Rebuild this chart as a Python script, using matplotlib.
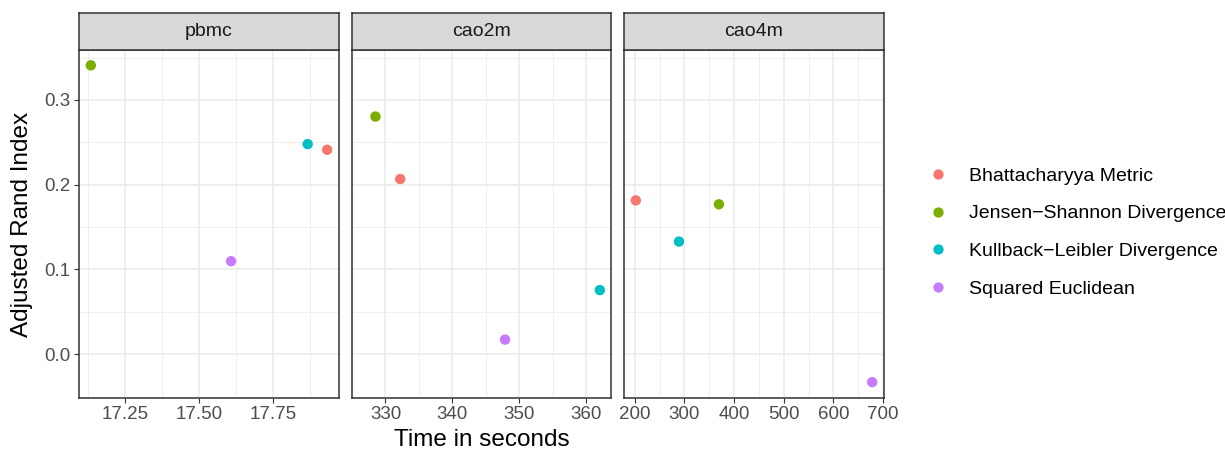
import matplotlib
matplotlib.use("Agg")
import matplotlib.pyplot as plt
from matplotlib.lines import Line2D
import numpy as np

plt.rcParams['font.family'] = ['Liberation Sans', 'DejaVu Sans']

datasets = ["pbmc", "cao2m", "cao4m"]
metrics = ["Bhattacharyya Metric", "Jensen\u2212Shannon Divergence",
           "Kullback\u2212Leibler Divergence", "Squared Euclidean"]
colors = ["#F8766D", "#7CAE00", "#00BFC4", "#C77CFF"]

# time (s) per dataset, ordered as metrics
time_pbmc = [17.933, 17.134, 17.867, 17.608]
time_cao2m = [332.2, 328.5, 362.0, 347.85]
time_cao4m = [202.0, 369.5, 289.0, 678.3]
# ARI per dataset, ordered as metrics
ari_pbmc = [0.2412, 0.3408, 0.2479, 0.1098]
ari_cao2m = [0.2067, 0.2804, 0.0757, 0.0173]
ari_cao4m = [0.1815, 0.1769, 0.1329, -0.0329]

times = [time_pbmc, time_cao2m, time_cao4m]
aris = [ari_pbmc, ari_cao2m, ari_cao4m]

x_major = [[17.25, 17.50, 17.75], [330, 340, 350, 360], [200, 300, 400, 500, 600, 700]]
x_minor = [[17.125, 17.375, 17.625, 17.875], [325, 335, 345, 355],
           [250, 350, 450, 550, 650]]
x_labels = [["17.25", "17.50", "17.75"], ["330", "340", "350", "360"],
            ["200", "300", "400", "500", "600", "700"]]
y_major = [0.0, 0.1, 0.2, 0.3]
y_minor = [-0.05, 0.05, 0.15, 0.25, 0.35]
y_labels = ["0.0", "0.1", "0.2", "0.3"]

W, H = 1225, 451
fig = plt.figure(figsize=(W / 100, H / 100), dpi=100)

lefts = [79, 352, 624]
widths = [260, 259, 260]
p_top, p_bot = 49.5, 398
strip_top = 13

all_ari = np.concatenate([np.array(a) for a in aris])
ymin, ymax = all_ari.min(), all_ari.max()
yr = ymax - ymin
ylim = (ymin - 0.05 * yr, ymax + 0.05 * yr)

border = "#333333"
for i, name in enumerate(datasets):
    ax = fig.add_axes([lefts[i] / W, 1 - p_bot / H, widths[i] / W, (p_bot - p_top) / H])
    t = np.array(times[i]); a = np.array(aris[i])
    xr = t.max() - t.min()
    ax.set_xlim(t.min() - 0.05 * xr, t.max() + 0.05 * xr)
    ax.set_ylim(*ylim)
    ax.set_xticks(x_major[i])
    ax.set_xticklabels(x_labels[i])
    ax.set_xticks(x_minor[i], minor=True)
    ax.set_yticks(y_major)
    ax.set_yticks(y_minor, minor=True)
    ax.grid(True, which='major', color="#EBEBEB", linewidth=1.1)
    ax.grid(True, which='minor', color="#EBEBEB", linewidth=0.55)
    ax.set_axisbelow(True)
    ax.tick_params(axis='both', which='minor', length=0)
    ax.tick_params(axis='both', which='major', length=3.5, width=0.8, color=border,
                   labelsize=13.5, labelcolor="#4D4D4D", pad=2.5)
    if i == 0:
        ax.set_yticklabels(y_labels)
    else:
        ax.tick_params(axis='y', which='major', length=0, labelleft=False)
    for s in ax.spines.values():
        s.set_color(border)
        s.set_linewidth(1.1)
    for j in range(len(metrics)):
        ax.scatter(t[j], a[j], s=56, color=colors[j], edgecolors='none', zorder=3)
    # strip
    sax = fig.add_axes([lefts[i] / W, 1 - p_top / H, widths[i] / W, (p_top - strip_top) / H])
    sax.set_facecolor("#D9D9D9")
    sax.set_xticks([]); sax.set_yticks([])
    for s in sax.spines.values():
        s.set_color(border)
        s.set_linewidth(1.1)
    sax.text(0.5, 0.5, name, ha='center', va='center', fontsize=14, color="#1A1A1A",
             transform=sax.transAxes)

fig.text(22 / W, 1 - 224 / H, "Adjusted Rand Index", rotation=90, ha='center', va='center',
         fontsize=17.5)
fig.text(482 / W, 1 - 440 / H, "Time in seconds", ha='center', va='center', fontsize=17.5)

handles = [Line2D([], [], marker='o', linestyle='none', markersize=7.4,
                  markerfacecolor=c, markeredgecolor='none') for c in colors]
fig.legend(handles, metrics, loc='center left', bbox_to_anchor=(928 / W, 1 - 232.5 / H),
           frameon=False, fontsize=14, labelspacing=1.03, handletextpad=1.1,
           handlelength=1.0, borderpad=0, borderaxespad=0)

fig.savefig("out.png", dpi=100)
